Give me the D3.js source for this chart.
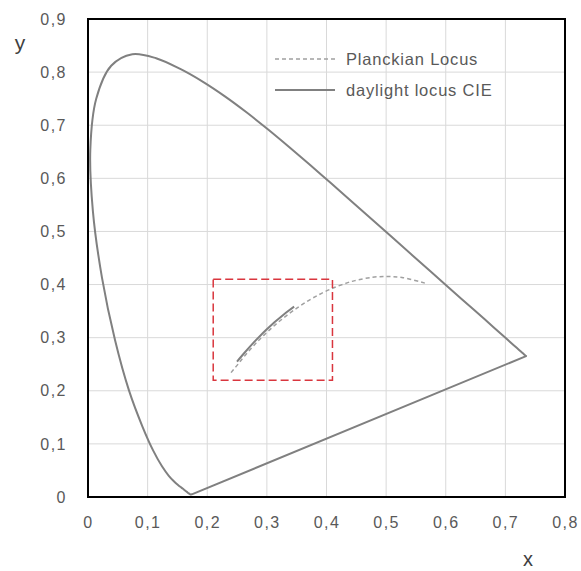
<!DOCTYPE html>
<html>
<head>
<meta charset="utf-8">
<script src="https://cdn.jsdelivr.net/npm/d3@7"></script>
<style>
  body { margin: 0; background: #fff; }
  text { font-family: "Liberation Sans", Arial, sans-serif; }
</style>
</head>
<body>
<div id="chart"></div>
<script>
// chart size
const width = 581, height = 571;
const margin = { left: 88, right: 16, top: 19, bottom: 74 };

// spectral locus, CIE 1931 2deg, 380..700 nm every 5 nm
const locusX = [0.1741, 0.1740, 0.1738, 0.1736, 0.1733, 0.1730, 0.1726, 0.1721, 0.1714, 0.1703,
  0.1689, 0.1669, 0.1644, 0.1611, 0.1566, 0.1510, 0.1440, 0.1355, 0.1241, 0.1096,
  0.0913, 0.0687, 0.0454, 0.0235, 0.0082, 0.0039, 0.0139, 0.0389, 0.0743, 0.1142,
  0.1547, 0.1929, 0.2296, 0.2658, 0.3016, 0.3373, 0.3731, 0.4087, 0.4441, 0.4788,
  0.5125, 0.5448, 0.5752, 0.6029, 0.6270, 0.6482, 0.6658, 0.6801, 0.6915, 0.7006,
  0.7079, 0.7140, 0.7190, 0.7230, 0.7260, 0.7283, 0.7300, 0.7311, 0.7320, 0.7327,
  0.7334, 0.7340, 0.7344, 0.7346, 0.7347];
const locusY = [0.0050, 0.0050, 0.0049, 0.0049, 0.0048, 0.0048, 0.0048, 0.0048, 0.0051, 0.0058,
  0.0069, 0.0086, 0.0109, 0.0138, 0.0177, 0.0227, 0.0297, 0.0399, 0.0578, 0.0868,
  0.1327, 0.2007, 0.2950, 0.4127, 0.5384, 0.6548, 0.7502, 0.8120, 0.8338, 0.8262,
  0.8059, 0.7816, 0.7543, 0.7243, 0.6923, 0.6589, 0.6245, 0.5896, 0.5547, 0.5202,
  0.4866, 0.4544, 0.4242, 0.3965, 0.3725, 0.3514, 0.3340, 0.3197, 0.3083, 0.2993,
  0.2920, 0.2859, 0.2809, 0.2770, 0.2740, 0.2717, 0.2700, 0.2689, 0.2680, 0.2673,
  0.2666, 0.2660, 0.2656, 0.2654, 0.2653];

// Planckian locus, from infinity down to ~1667 K
const planckX = [0.2399, 0.2459, 0.2521, 0.2565, 0.2641, 0.2720, 0.2807, 0.2869, 0.2952, 0.3064,
  0.3135, 0.3221, 0.3325, 0.3451, 0.3608, 0.3805, 0.4053, 0.4369, 0.4476, 0.4770,
  0.5023, 0.5267, 0.5650];
const planckY = [0.2342, 0.2424, 0.2508, 0.2570, 0.2674, 0.2776, 0.2884, 0.2956, 0.3048, 0.3166,
  0.3237, 0.3318, 0.3411, 0.3516, 0.3636, 0.3768, 0.3907, 0.4041, 0.4074, 0.4137,
  0.4152, 0.4133, 0.4027];

// CIE daylight locus, 25000 K down to D50
const dayX = [0.2499, 0.2539, 0.2614, 0.2697, 0.2788, 0.2938, 0.2990, 0.3127, 0.3324, 0.3457];
const dayY = [0.2548, 0.2603, 0.2702, 0.2808, 0.2920, 0.3093, 0.3149, 0.3290, 0.3474, 0.3585];

// marked region
const boxX = [0.21, 0.41];
const boxY = [0.22, 0.41];

const xTicks = [0, 0.1, 0.2, 0.3, 0.4, 0.5, 0.6, 0.7, 0.8];
const yTicks = [0, 0.1, 0.2, 0.3, 0.4, 0.5, 0.6, 0.7, 0.8, 0.9];
const legendLabels = ["Planckian Locus", "daylight locus CIE"];

const svg = d3.select("#chart").append("svg")
    .attr("width", width)
    .attr("height", height);

const x = d3.scaleLinear().domain([0, 0.8]).range([margin.left, width - margin.right]);
const y = d3.scaleLinear().domain([0, 0.9]).range([height - margin.bottom, margin.top]);

const fmt = d => d === 0 ? "0" : d3.format(".1f")(d).replace(".", ",");

// grid
svg.append("g").selectAll("line").data(xTicks).join("line")
    .attr("x1", d => x(d)).attr("x2", d => x(d))
    .attr("y1", y(0)).attr("y2", y(0.9))
    .attr("stroke", "#d9d9d9").attr("stroke-width", 1);
svg.append("g").selectAll("line").data(yTicks).join("line")
    .attr("x1", x(0)).attr("x2", x(0.8))
    .attr("y1", d => y(d)).attr("y2", d => y(d))
    .attr("stroke", "#d9d9d9").attr("stroke-width", 1);

// tick labels through axes
const xAxis = svg.append("g")
    .attr("transform", `translate(0,${y(0)})`)
    .call(d3.axisBottom(x).tickValues(xTicks).tickFormat(fmt).tickSize(0).tickPadding(20));
const yAxis = svg.append("g")
    .attr("transform", `translate(${x(0)},0)`)
    .call(d3.axisLeft(y).tickValues(yTicks).tickFormat(fmt).tickSize(0).tickPadding(21));
[xAxis, yAxis].forEach(a => {
  a.select(".domain").remove();
  a.selectAll("text")
    .attr("fill", "#595959")
    .style("font-size", "16px")
    .style("letter-spacing", "1.5px");
});

// axis titles
svg.append("text").attr("x", 20).attr("y", 50).attr("text-anchor", "middle")
    .attr("fill", "#404040").style("font-size", "21px").text("y");
svg.append("text").attr("x", 528).attr("y", 566).attr("text-anchor", "middle")
    .attr("fill", "#404040").style("font-size", "20px").text("x");

const idx = xs => d3.range(xs.length);
const line = (xs, ys, curve) => d3.line().curve(curve || d3.curveLinear)
    .x(i => x(xs[i])).y(i => y(ys[i]))(idx(xs));

// spectral locus, closed by the purple line
svg.append("path")
    .attr("d", line(locusX, locusY, d3.curveCatmullRom) + "Z")
    .attr("fill", "none")
    .attr("stroke", "#808080")
    .attr("stroke-width", 2)
    .attr("stroke-linejoin", "round");

// Planckian locus
svg.append("path")
    .attr("d", line(planckX, planckY, d3.curveCatmullRom))
    .attr("fill", "none")
    .attr("stroke", "#a0a0a0")
    .attr("stroke-width", 1.5)
    .attr("stroke-dasharray", "4,3");

// daylight locus
svg.append("path")
    .attr("d", line(dayX, dayY))
    .attr("fill", "none")
    .attr("stroke", "#808080")
    .attr("stroke-width", 2);

// red dashed box
svg.append("rect")
    .attr("x", x(boxX[0])).attr("y", y(boxY[1]))
    .attr("width", x(boxX[1]) - x(boxX[0]))
    .attr("height", y(boxY[0]) - y(boxY[1]))
    .attr("fill", "none")
    .attr("stroke", "#d9363e")
    .attr("stroke-width", 1.5)
    .attr("stroke-dasharray", "8,4");

// legend
const legend = svg.append("g");
legendLabels.forEach((lab, i) => {
  const ly = 59 + i * 31;
  legend.append("line")
    .attr("x1", 275).attr("x2", 335).attr("y1", ly).attr("y2", ly)
    .attr("stroke", i === 0 ? "#a0a0a0" : "#808080")
    .attr("stroke-width", i === 0 ? 1.5 : 2)
    .attr("stroke-dasharray", i === 0 ? "4,3" : null);
  legend.append("text")
    .attr("x", 346).attr("y", ly + 6)
    .attr("fill", "#595959")
    .style("font-size", "16.5px")
    .style("letter-spacing", "0.8px")
    .text(lab);
});

// plot border
svg.append("rect")
    .attr("x", x(0)).attr("y", y(0.9))
    .attr("width", x(0.8) - x(0)).attr("height", y(0) - y(0.9))
    .attr("fill", "none")
    .attr("stroke", "#000")
    .attr("stroke-width", 2);
</script>
</body>
</html>
